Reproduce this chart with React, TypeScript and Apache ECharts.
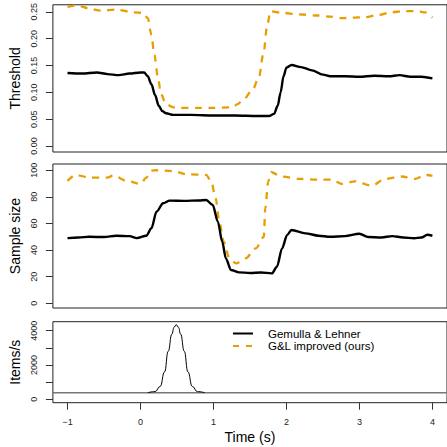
import React, { useEffect, useRef } from "react";
import * as echarts from "echarts";

// ---- Data ----
const thrTimeGL = [-1, -0.8, -0.6, -0.45, -0.3, -0.15, 0, 0.05, 0.1, 0.15, 0.2, 0.25, 0.3, 0.35, 0.45, 0.7, 1.0, 1.3, 1.6, 1.76, 1.83, 1.88, 1.92, 1.96, 2.0, 2.07, 2.2, 2.35, 2.5, 2.6, 2.8, 3.0, 3.2, 3.4, 3.55, 3.7, 3.85, 4.0];
const thrGL = [0.136, 0.135, 0.137, 0.134, 0.132, 0.135, 0.137, 0.137, 0.13, 0.115, 0.095, 0.075, 0.065, 0.061, 0.058, 0.058, 0.057, 0.057, 0.056, 0.056, 0.06, 0.075, 0.1, 0.13, 0.146, 0.151, 0.147, 0.141, 0.133, 0.13, 0.13, 0.129, 0.131, 0.13, 0.132, 0.129, 0.129, 0.126];

const thrTimeOurs = [-1, -0.87, -0.7, -0.55, -0.33, -0.1, 0.04, 0.1, 0.15, 0.19, 0.24, 0.28, 0.35, 0.45, 0.53, 0.8, 1.0, 1.26, 1.33, 1.4, 1.53, 1.62, 1.69, 1.73, 1.78, 1.94, 2.17, 2.44, 2.6, 2.76, 2.9, 3.07, 3.26, 3.44, 3.6, 3.8, 3.9, 4.0];
const thrOurs = [0.259, 0.262, 0.256, 0.252, 0.254, 0.249, 0.248, 0.238, 0.207, 0.17, 0.127, 0.097, 0.078, 0.072, 0.071, 0.071, 0.071, 0.072, 0.078, 0.085, 0.103, 0.127, 0.176, 0.219, 0.251, 0.248, 0.245, 0.243, 0.241, 0.238, 0.239, 0.24, 0.244, 0.249, 0.251, 0.251, 0.249, 0.239];

const ssTimeGL = [-1, -0.85, -0.7, -0.5, -0.33, -0.15, -0.05, 0.08, 0.15, 0.22, 0.31, 0.4, 0.6, 0.8, 0.9, 0.99, 1.06, 1.12, 1.17, 1.24, 1.35, 1.5, 1.65, 1.8, 1.87, 1.94, 2.01, 2.07, 2.26, 2.44, 2.6, 2.8, 3.0, 3.12, 3.3, 3.45, 3.6, 3.75, 3.85, 3.93, 4.0];
const ssGL = [49, 49.5, 50, 49.8, 50.8, 50.5, 49, 50.8, 56.4, 68.9, 75.2, 77.2, 77, 77.3, 77.7, 73.9, 61.4, 46.3, 33.8, 25, 23.3, 22.8, 23.2, 22.5, 27.5, 41.3, 51.4, 55.1, 52.6, 50.8, 50, 50.5, 52.3, 49.8, 49.5, 50.5, 49.5, 48.9, 49.5, 51.5, 50.8];

const ssTimeOurs = [-1, -0.89, -0.69, -0.46, -0.37, -0.19, 0, 0.08, 0.15, 0.22, 0.45, 0.63, 0.9, 0.97, 1.03, 1.08, 1.14, 1.22, 1.31, 1.44, 1.58, 1.69, 1.71, 1.75, 1.79, 1.94, 2.17, 2.44, 2.62, 2.76, 2.94, 3.17, 3.35, 3.58, 3.76, 3.9, 4.0];
const ssOurs = [92, 96.5, 94.5, 94.5, 96, 92, 89.7, 94.5, 99.7, 100, 99.4, 97, 96.5, 91.5, 78.9, 61.4, 46.3, 33.8, 30, 33.8, 41.3, 50, 71.4, 91.5, 98.5, 95.3, 93.5, 93, 93, 89.7, 91.7, 88.4, 93.5, 95.3, 93.5, 96.5, 95.8];

const rateTime = [0.1, 0.2, 0.27, 0.33, 0.38, 0.43, 0.46, 0.49, 0.52, 0.55, 0.6, 0.65, 0.71, 0.78, 0.88];
const rateValues = [385, 450, 750, 1600, 2800, 3800, 4200, 4350, 4200, 3800, 2800, 1600, 750, 450, 385];
const baseTime = [-1.2, 4.2];
const baseRate = [385, 385];

const xTicks = [-1, 0, 1, 2, 3, 4];
const thrTicks = [0, 0.05, 0.1, 0.15, 0.2, 0.25];
const ssTicks = [0, 20, 40, 60, 80, 100];
const rateTicks = [0, 1000, 2000, 3000, 4000];
const rateLabels = [0, 2000, 4000];

const legendNames = ["Gemulla & Lehner", "G&L improved (ours)"];

const zip = (a: number[], b: number[]) => a.map((v, i) => [v, b[i]]);

const FONT = "'Liberation Sans', Arial, Helvetica, sans-serif";
const ORANGE = "#E69F00";

export default function App() {
  const ref = useRef<HTMLDivElement>(null);
  useEffect(() => {
    if (!ref.current) return;
    const chart = echarts.init(ref.current, undefined, { renderer: "svg" });
    const gridBase = { left: 52.6, width: 397, show: true, borderColor: "#222", borderWidth: 1, backgroundColor: "transparent" };
    const xBase = (idx: number, showLabels: boolean) => ({
      type: "value",
      gridIndex: idx,
      min: -1.2,
      max: 4.2,
      axisLine: { show: false, onZero: false },
      splitLine: { show: false },
      axisTick: showLabels
        ? { show: true, length: 7, lineStyle: { color: "#333" }, customValues: xTicks }
        : { show: false },
      axisLabel: showLabels
        ? {
            show: true,
            customValues: xTicks,
            fontSize: 9,
            fontFamily: FONT,
            color: "#222",
            margin: 15,
            formatter: (v: number) => (v < 0 ? "\u2212" + Math.abs(v) : String(v)),
          }
        : { show: false },
      name: showLabels ? "Time (s)" : "",
      nameLocation: "middle",
      nameGap: 27,
      nameTextStyle: { fontSize: 14, fontFamily: FONT, color: "#000" },
    });
    const yBase = (idx: number, name: string, min: number, max: number, ticks: number[], labels: number[], fmt: (v: number) => string) => ({
      type: "value",
      gridIndex: idx,
      min,
      max,
      axisLine: { show: false, onZero: false },
      splitLine: { show: false },
      axisTick: { show: true, length: 7, lineStyle: { color: "#333" }, customValues: ticks },
      axisLabel: {
        show: true,
        customValues: labels,
        rotate: 90,
        fontSize: 9,
        fontFamily: FONT,
        color: "#222",
        margin: 14,
        formatter: fmt,
      },
      name,
      nameLocation: "middle",
      nameGap: 28,
      nameTextStyle: { fontSize: 14, fontFamily: FONT, color: "#000" },
    });
    const blackLine = { color: "#000", width: 2.4 };
    const orangeLine = { color: ORANGE, width: 2.3, type: [7, 6.5] };
    const lineCommon = { type: "line", showSymbol: false, symbol: "none", smooth: 0.3, smoothMonotone: "x" };

    chart.setOption({
      animation: false,
      grid: [
        { ...gridBase, top: 3, height: 149 },
        { ...gridBase, top: 164, height: 144 },
        { ...gridBase, top: 321.7, height: 81 },
      ],
      xAxis: [xBase(0, false), xBase(1, false), xBase(2, true)],
      yAxis: [
        yBase(0, "Threshold", -0.011, 0.263, thrTicks, thrTicks, (v) => v.toFixed(2)),
        yBase(1, "Sample size", -3.5, 104.7, ssTicks, ssTicks, (v) => String(v)),
        yBase(2, "Items/s", -198, 4525, rateTicks, rateLabels, (v) => String(v)),
      ],
      series: [
        { ...lineCommon, name: legendNames[0], xAxisIndex: 0, yAxisIndex: 0, data: zip(thrTimeGL, thrGL), lineStyle: blackLine, z: 3 },
        { ...lineCommon, name: legendNames[1], xAxisIndex: 0, yAxisIndex: 0, data: zip(thrTimeOurs, thrOurs), lineStyle: orangeLine, z: 2 },
        { ...lineCommon, name: legendNames[0] + " ss", xAxisIndex: 1, yAxisIndex: 1, data: zip(ssTimeGL, ssGL), lineStyle: blackLine, z: 3 },
        { ...lineCommon, name: legendNames[1] + " ss", xAxisIndex: 1, yAxisIndex: 1, data: zip(ssTimeOurs, ssOurs), lineStyle: orangeLine, z: 2 },
        { type: "line", showSymbol: false, symbol: "none", name: "base", xAxisIndex: 2, yAxisIndex: 2, data: zip(baseTime, baseRate), lineStyle: { color: "#777", width: 1.4 }, z: 2 },
        { ...lineCommon, smooth: 0.5, name: "rate", xAxisIndex: 2, yAxisIndex: 2, data: zip(rateTime, rateValues), lineStyle: { color: "#000", width: 1 }, z: 3 },
      ],
      graphic: [
        { type: "line", shape: { x1: 233, y1: 333.5, x2: 253, y2: 333.5 }, style: { stroke: "#000", lineWidth: 2 } },
        { type: "line", shape: { x1: 233, y1: 346, x2: 253, y2: 346 }, style: { stroke: ORANGE, lineWidth: 2, lineDash: [6, 7] } },
        { type: "text", x: 268, y: 333.5, style: { text: legendNames[0], fontSize: 11.5, fontFamily: FONT, fill: "#000", verticalAlign: "middle" } },
        { type: "text", x: 268, y: 346, style: { text: legendNames[1], fontSize: 11.5, fontFamily: FONT, fill: "#000", verticalAlign: "middle" } },
      ],
    });
    return () => chart.dispose();
  }, []);
  return <div ref={ref} style={{ position: "absolute", left: 0, top: 0, width: 447, height: 447, background: "#fff" }} />;
}
